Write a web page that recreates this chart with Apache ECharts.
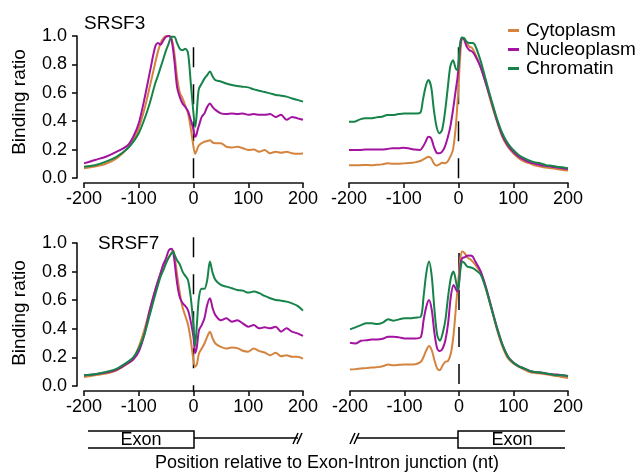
<!DOCTYPE html>
<html>
<head>
<meta charset="utf-8">
<script src="https://cdn.jsdelivr.net/npm/echarts@6/dist/echarts.min.js"></script>
<style>
html,body{margin:0;padding:0;background:#fff;}
#chart{width:641px;height:473px;}
</style>
</head>
<body>
<div id="chart"></div>
<script>
// positions (nt) sampled per panel
var xsA = [-200,-180,-160,-140,-120,-110,-100,-90,-80,-70,-65,-60,-55,-50,-45,-40,-35,-30,-25,-20,-15,-10,-5,0,3,5,8,10,15,20,25,30,35,40,50,60,70,80,90,100,110,120,130,140,150,160,170,180,190,200];
var xsB = [-200,-190,-180,-170,-160,-150,-140,-130,-120,-110,-100,-90,-80,-70,-65,-60,-55,-50,-45,-40,-35,-30,-25,-20,-15,-10,-5,-2,0,3,6,10,15,20,25,30,40,50,60,70,80,90,100,110,120,130,140,150,160,170,180,190,200];
var xsC = [-200,-180,-160,-140,-120,-110,-100,-90,-80,-70,-60,-55,-50,-45,-40,-37,-35,-30,-25,-20,-15,-10,-5,0,3,6,10,15,20,25,30,35,40,50,60,70,80,90,100,110,120,130,140,150,160,170,180,190,200];
var xsD = xsB;

// SRSF3, exon-intron side
var cytoA = [.068,.08,.10,.14,.21,.27,.35,.48,.64,.81,.89,.95,.985,1.0,1.0,.98,.88,.71,.60,.56,.51,.455,.35,.22,.17,.185,.215,.23,.245,.255,.26,.265,.25,.245,.245,.22,.215,.22,.21,.197,.2,.185,.197,.174,.185,.178,.185,.174,.17,.172];
var nuclA = [.103,.127,.15,.185,.23,.29,.385,.55,.74,.925,.95,.94,.97,.995,1.0,.97,.83,.64,.57,.525,.50,.47,.41,.34,.29,.30,.345,.37,.43,.455,.50,.525,.50,.48,.455,.45,.455,.45,.455,.445,.45,.445,.445,.45,.43,.445,.41,.43,.42,.41];
var chroA = [.08,.09,.115,.15,.21,.255,.315,.41,.525,.665,.72,.78,.84,.90,.95,.995,.995,.95,.91,.90,.91,.88,.67,.455,.36,.41,.57,.63,.665,.70,.725,.75,.715,.69,.68,.665,.655,.648,.643,.638,.624,.615,.605,.596,.585,.58,.573,.56,.55,.538];

// SRSF3, intron-exon side
var cytoB = [.09,.09,.09,.092,.09,.093,.096,.103,.10,.10,.103,.105,.11,.12,.13,.14,.15,.14,.103,.087,.096,.108,.103,.115,.15,.2,.36,.52,.64,.85,.98,.985,.95,.925,.915,.88,.785,.665,.525,.40,.29,.22,.174,.14,.115,.103,.087,.08,.073,.068,.063,.056,.052];
var nuclB = [.197,.197,.197,.2,.2,.2,.2,.205,.21,.21,.213,.208,.2,.197,.22,.255,.29,.28,.22,.178,.174,.185,.22,.28,.36,.48,.62,.70,.78,.92,.985,.977,.925,.90,.89,.865,.785,.665,.54,.41,.30,.23,.185,.15,.127,.11,.10,.09,.085,.08,.073,.068,.063];
var chroB = [.397,.397,.413,.42,.42,.427,.432,.443,.443,.45,.455,.455,.455,.46,.55,.643,.69,.643,.48,.36,.315,.338,.455,.62,.785,.83,.77,.76,.807,.95,.99,.985,.96,.95,.95,.937,.83,.69,.55,.42,.315,.244,.197,.162,.14,.122,.11,.103,.09,.087,.08,.075,.068];

// SRSF7, exon-intron side
var cytoC = [.063,.075,.087,.11,.157,.19,.274,.39,.53,.67,.79,.85,.87,.90,.93,.945,.92,.78,.65,.55,.49,.43,.32,.18,.135,.15,.227,.262,.297,.344,.38,.333,.297,.274,.262,.27,.265,.246,.24,.262,.244,.234,.215,.232,.208,.215,.204,.204,.192];
var nuclC = [.075,.082,.094,.115,.16,.185,.24,.356,.53,.67,.79,.85,.895,.95,.96,.93,.883,.72,.62,.58,.56,.53,.45,.34,.23,.27,.39,.426,.473,.567,.614,.543,.496,.46,.473,.45,.46,.438,.415,.426,.403,.41,.403,.415,.38,.403,.38,.368,.35];
var chroC = [.075,.082,.098,.122,.169,.2,.262,.356,.496,.637,.766,.81,.86,.90,.93,.94,.92,.88,.85,.80,.77,.74,.62,.42,.28,.42,.62,.68,.68,.74,.87,.79,.742,.707,.695,.684,.672,.667,.653,.66,.649,.63,.614,.602,.597,.59,.578,.56,.527];

// SRSF7, intron-exon side
var cytoD = [.115,.118,.122,.125,.129,.132,.138,.15,.145,.148,.15,.15,.152,.169,.204,.25,.279,.25,.18,.122,.11,.145,.169,.176,.227,.36,.58,.71,.79,.906,.94,.93,.90,.888,.87,.848,.79,.672,.532,.39,.274,.192,.157,.133,.115,.098,.091,.087,.082,.075,.07,.063,.056];
var nuclD = [.302,.297,.316,.32,.325,.325,.33,.344,.344,.34,.333,.333,.333,.344,.46,.555,.602,.532,.368,.262,.244,.262,.32,.438,.625,.707,.672,.66,.72,.86,.895,.90,.911,.913,.906,.87,.80,.684,.543,.403,.286,.204,.162,.138,.122,.105,.098,.094,.087,.082,.08,.075,.07];
var chroD = [.396,.41,.426,.438,.438,.433,.443,.466,.457,.466,.473,.473,.478,.485,.625,.79,.87,.766,.532,.356,.316,.368,.46,.625,.754,.80,.72,.672,.72,.824,.87,.86,.836,.83,.824,.813,.778,.672,.536,.403,.286,.204,.162,.138,.122,.105,.098,.094,.087,.082,.075,.075,.068];

var seriesNames = ['Cytoplasm', 'Nucleoplasm', 'Chromatin'];
var colors = ['#d4843f', '#a3139f', '#16834a'];
var xTicks = [-200, -100, 0, 100, 200];
var yTicks = [0, 0.2, 0.4, 0.6, 0.8, 1.0];
// junction marker extent per panel
var dashBottom = [-0.01, -0.04, -0.04, -0.04];
var dashTop = [0.92, 0.92, 1.04, 0.93];

var panels = [
	{xs: xsA, ys: [cytoA, nuclA, chroA]},
	{xs: xsB, ys: [cytoB, nuclB, chroB]},
	{xs: xsC, ys: [cytoC, nuclC, chroC]},
	{xs: xsD, ys: [cytoD, nuclD, chroD]}
];

function pairs(xs, ys){
	var arr = [];
	for(var i=0; i<xs.length; i++){
		arr.push([xs[i], ys[i]]);
	}
	return arr;
}

var font = 'Liberation Sans, Arial, sans-serif';
var chart = echarts.init(document.getElementById('chart'), null, {renderer: 'canvas'});

var grids = [
	{left: 84, top: 36, width: 219, height: 142},
	{left: 349, top: 36, width: 219, height: 142},
	{left: 84, top: 243, width: 219, height: 143},
	{left: 350, top: 243, width: 218, height: 143}
];

var xAxes = [], yAxes = [], series = [];
for(var p=0; p<4; p++){
	xAxes.push({
		gridIndex: p, type: 'value', min: xTicks[0], max: xTicks[xTicks.length-1], interval: 100,
		offset: 5,
		axisLine: {show: true, onZero: false, lineStyle: {color: '#111', width: 1.6}},
		axisTick: {show: true, length: 5, lineStyle: {color: '#111', width: 1.6}},
		axisLabel: {color: '#000', fontSize: 18, fontFamily: font, margin: 7},
		splitLine: {show: false}
	});
	var isLeft = (p % 2 == 0);
	yAxes.push({
		gridIndex: p, type: 'value', min: yTicks[0], max: yTicks[yTicks.length-1], interval: 0.2,
		show: isLeft,
		offset: 7,
		axisLine: {show: true, onZero: false, lineStyle: {color: '#111', width: 1.6}},
		axisTick: {show: true, length: 5, lineStyle: {color: '#111', width: 1.6}},
		axisLabel: {color: '#000', fontSize: 18, fontFamily: font, margin: 10,
			formatter: function(v){ return v.toFixed(1); }},
		splitLine: {show: false}
	});
	series.push({
		type: 'line', xAxisIndex: p, yAxisIndex: p, silent: true, clip: false,
		showSymbol: false, symbol: 'none', z: 1,
		lineStyle: {color: '#000', width: 1.5, type: [20, 17]},
		data: [[0, dashTop[p]], [0, dashBottom[p]]]
	});
	for(var s=0; s<3; s++){
		series.push({
			name: seriesNames[s], type: 'line', xAxisIndex: p, yAxisIndex: p,
			showSymbol: false, symbol: 'none', smooth: 0.3, z: 2 + s,
			color: colors[s],
			lineStyle: {color: colors[s], width: 2},
			data: pairs(panels[p].xs, panels[p].ys[s])
		});
	}
}

var lineSt = {stroke: '#000', lineWidth: 1.5};
var option = {
	animation: false,
	backgroundColor: '#fff',
	grid: grids,
	xAxis: xAxes,
	yAxis: yAxes,
	legend: {
		data: seriesNames,
		orient: 'vertical', left: 503, top: 16,
		icon: 'rect', itemWidth: 11, itemHeight: 3, itemGap: 0,
		textStyle: {color: '#000', fontSize: 19, fontFamily: font, padding: [0, 0, 0, 2]}
	},
	series: series,
	graphic: [
		{type: 'text', left: 84, top: 14, style: {text: 'SRSF3', fill: '#000', font: '19px ' + font}},
		{type: 'text', left: 98, top: 234, style: {text: 'SRSF7', fill: '#000', font: '19px ' + font}},
		{type: 'text', x: 20, y: 102, rotation: Math.PI / 2,
			style: {text: 'Binding ratio', fill: '#000', font: '19px ' + font, textAlign: 'center', textVerticalAlign: 'middle'}},
		{type: 'text', x: 20, y: 313, rotation: Math.PI / 2,
			style: {text: 'Binding ratio', fill: '#000', font: '19px ' + font, textAlign: 'center', textVerticalAlign: 'middle'}},
		// gene model
		{type: 'polyline', shape: {points: [[88, 431], [194, 431], [194, 448], [88, 448]]}, style: {stroke: '#000', lineWidth: 1.5, fill: null}},
		{type: 'line', shape: {x1: 194, y1: 438, x2: 298, y2: 438}, style: lineSt},
		{type: 'line', shape: {x1: 293, y1: 444, x2: 298, y2: 433}, style: lineSt},
		{type: 'line', shape: {x1: 297, y1: 444, x2: 302, y2: 433}, style: lineSt},
		{type: 'line', shape: {x1: 356, y1: 438, x2: 458, y2: 438}, style: lineSt},
		{type: 'line', shape: {x1: 350, y1: 444, x2: 355, y2: 433}, style: lineSt},
		{type: 'line', shape: {x1: 354, y1: 444, x2: 359, y2: 433}, style: lineSt},
		{type: 'polyline', shape: {points: [[565, 431], [458, 431], [458, 448], [565, 448]]}, style: {stroke: '#000', lineWidth: 1.5, fill: null}},
		{type: 'text', x: 141, y: 440, style: {text: 'Exon', fill: '#000', font: '18px ' + font, textAlign: 'center', textVerticalAlign: 'middle'}},
		{type: 'text', x: 512, y: 440, style: {text: 'Exon', fill: '#000', font: '18px ' + font, textAlign: 'center', textVerticalAlign: 'middle'}},
		{type: 'text', x: 327, y: 463, style: {text: 'Position relative to Exon-Intron junction (nt)', fill: '#000', font: '18px ' + font, textAlign: 'center', textVerticalAlign: 'middle'}}
	]
};

chart.setOption(option);
</script>
</body>
</html>
